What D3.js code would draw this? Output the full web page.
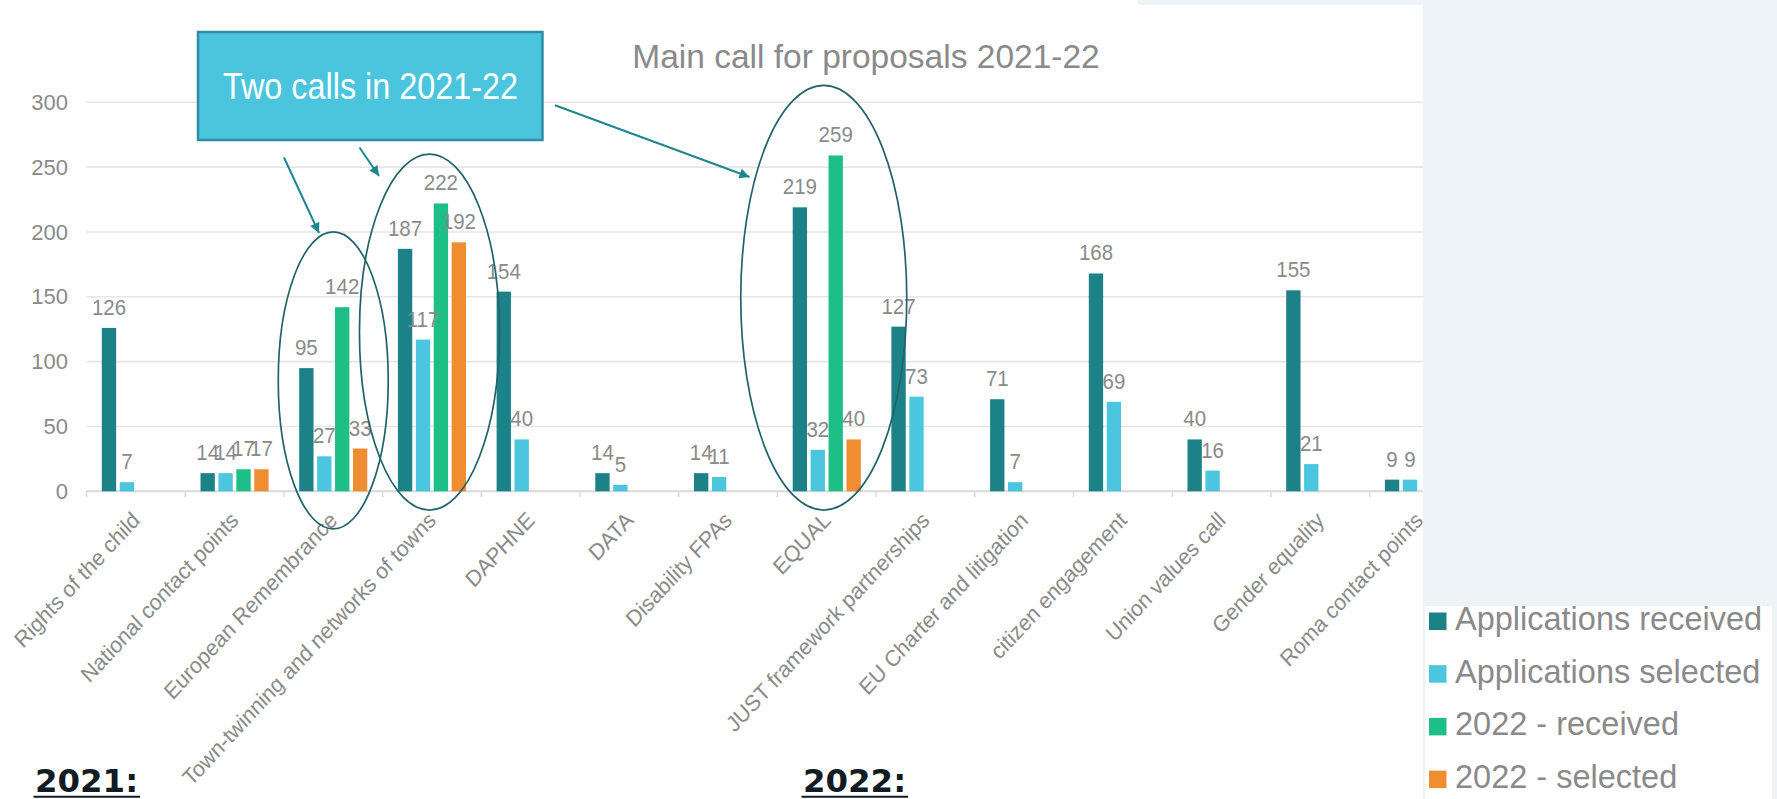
<!DOCTYPE html>
<html><head><meta charset="utf-8">
<script src="https://cdn.jsdelivr.net/npm/d3@7"></script>
<style>
body{margin:0;background:#fff;}
svg{display:block;font-family:"Liberation Sans",Arial,sans-serif;}
</style>
</head><body>
<svg id="c" width="1777" height="799"></svg>
<script>
// ---------- data ----------
const categories = ["Rights of the child","National contact points","European Remembrance",
  "Town-twinning and networks of towns","DAPHNE","DATA","Disability FPAs","EQUAL",
  "JUST framework partnerships","EU Charter and litigation","citizen engagement",
  "Union values call","Gender equality","Roma contact points"];
const seriesNames = ["Applications received","Applications selected","2022 - received","2022 - selected"];
const appsReceived = [126,14,95,187,154,14,14,219,127,71,168,40,155,9];
const appsSelected = [7,14,27,117,40,5,11,32,73,7,69,16,21,9];
const received2022 = [null,17,142,222,null,null,null,259,null,null,null,null,null,null];
const selected2022 = [null,17,33,192,null,null,null,40,null,null,null,null,null,null];
const yTicks = [0,50,100,150,200,250,300];
const colors = ["#1d8288","#4bc6de","#1dbf87","#ef8d31"];
const chartTitle = "Main call for proposals 2021-22";
const calloutText = "Two calls in 2021-22";
const yearLabels = ["2021:","2022:"];

const seriesValues = [appsReceived, appsSelected, received2022, selected2022];

// ---------- layout ----------
const svg = d3.select("#c");
const W = 1777, H = 799;
const plotL = 86.5, step = 98.7, plotR = plotL + step*categories.length;
const yBase = 491.3, yTop = 102.3;
const gray = "#8a8a8a";

const x0 = d3.scaleBand().domain(categories).range([plotL, plotR])
  .paddingInner(0.31).paddingOuter(0.155);
const x1 = d3.scaleBand().domain(seriesNames).range([0, x0.bandwidth()]).paddingInner(0.2);
const y = d3.scaleLinear().domain([0,300]).range([yBase, yTop]);

svg.append("rect").attr("width",W).attr("height",H).attr("fill","#fff");

// gridlines
svg.append("g").selectAll("line").data(yTicks.filter(d=>d>0)).join("line")
  .attr("x1",plotL).attr("x2",plotR).attr("y1",d=>y(d)).attr("y2",d=>y(d))
  .attr("stroke","#e6e6e6").attr("stroke-width",1.6);

// x axis line + boundary ticks
svg.append("line").attr("x1",plotL).attr("x2",plotR).attr("y1",yBase).attr("y2",yBase)
  .attr("stroke","#d9d9d9").attr("stroke-width",2);
svg.append("g").selectAll("line").data(d3.range(categories.length+1)).join("line")
  .attr("x1",k=>plotL+k*x0.step()).attr("x2",k=>plotL+k*x0.step())
  .attr("y1",yBase).attr("y2",yBase+6).attr("stroke","#d9d9d9").attr("stroke-width",1.5);

// y axis labels
const yAxis = svg.append("g").attr("transform","translate(68,0)")
  .call(d3.axisLeft(y).tickValues(yTicks).tickSize(0).tickPadding(0));
yAxis.select(".domain").remove();
yAxis.selectAll("text").attr("font-size",22).attr("fill",gray)
  .attr("font-family","'Liberation Sans',Arial,sans-serif");

// bars
const barData = [];
categories.forEach((c,i)=>{
  seriesNames.forEach((s,j)=>{
    const v = seriesValues[j][i];
    if (v !== null && v !== undefined) barData.push({c,s,v,j});
  });
});
svg.append("g").selectAll("rect").data(barData).join("rect")
  .attr("x",d=>x0(d.c)+x1(d.s)).attr("y",d=>y(d.v))
  .attr("width",x1.bandwidth()).attr("height",d=>y(0)-y(d.v))
  .attr("fill",d=>colors[d.j]);

// value labels (slightly tall glyphs as in the source picture)
svg.append("g").selectAll("text").data(barData).join("text")
  .attr("transform",d=>`translate(${x0(d.c)+x1(d.s)+x1.bandwidth()/2},${y(d.v)-13}) scale(1,1.12)`)
  .attr("text-anchor","middle").attr("font-size",20.5).attr("fill",gray)
  .text(d=>d.v);

// category labels
svg.append("g").selectAll("text").data(categories).join("text")
  .attr("transform",c=>`translate(${x0(c)+x0.bandwidth()/2},516) scale(1,1.08) rotate(-45)`)
  .attr("text-anchor","end").attr("dy","0.35em").attr("font-size",21).attr("fill",gray)
  .text(c=>c);

// title
svg.append("text").attr("x",866).attr("y",68).attr("text-anchor","middle")
  .attr("font-size",33.5).attr("fill",gray).text(chartTitle);

// ---------- annotations ----------
const defs = svg.append("defs");
defs.append("marker").attr("id","ah").attr("viewBox","0 0 10 10")
  .attr("refX",10).attr("refY",5).attr("markerWidth",13).attr("markerHeight",10)
  .attr("markerUnits","userSpaceOnUse").attr("orient","auto")
  .append("path").attr("d","M0,0 L10,5 L0,10 z").attr("fill","#1e878d");

// ellipses around groups: category, top value, bottom value, rx, x offset
const ellipses = [
  {cat:"European Remembrance", top:200, bottom:-29, rx:55, dx:0},
  {cat:"Town-twinning and networks of towns", top:260, bottom:-14.5, rx:70, dx:-2.5},
  {cat:"EQUAL", top:313, bottom:-14.5, rx:83, dx:-3}
];
svg.append("g").selectAll("ellipse").data(ellipses).join("ellipse")
  .attr("cx",d=>x0(d.cat)+x0.bandwidth()/2+d.dx)
  .attr("cy",d=>(y(d.top)+y(d.bottom))/2)
  .attr("rx",d=>d.rx).attr("ry",d=>(y(d.bottom)-y(d.top))/2)
  .attr("fill","none").attr("stroke","#22636a").attr("stroke-width",1.7);

// arrows
const arrows = [
  [[284,157.5],[319,233]],
  [[359.5,147.5],[379,176]],
  [[555,105.3],[749.5,177]]
];
svg.append("g").selectAll("line").data(arrows).join("line")
  .attr("x1",d=>d[0][0]).attr("y1",d=>d[0][1]).attr("x2",d=>d[1][0]).attr("y2",d=>d[1][1])
  .attr("stroke","#1e878d").attr("stroke-width",2).attr("marker-end","url(#ah)");

// callout box
svg.append("rect").attr("x",198).attr("y",32).attr("width",344.5).attr("height",108)
  .attr("fill","#4bc5dd").attr("stroke","#2f8ea6").attr("stroke-width",2.5);
svg.append("text").attr("x",223).attr("y",99.3).attr("font-size",37).attr("fill","#fff")
  .attr("textLength",295).attr("lengthAdjust","spacingAndGlyphs").text(calloutText);

// year labels
const yl = svg.append("g").selectAll("g").data(yearLabels).join("g");
yl.each(function(d,i){
  const g = d3.select(this);
  const xs = [35, 803][i];
  const t = g.append("text").attr("x",xs).attr("y",792).attr("font-size",32.4)
    .attr("font-weight","bold").attr("font-family","'DejaVu Sans',Verdana,sans-serif")
    .attr("fill","#111b24").text(d);
  const w = t.node().getComputedTextLength();
  g.append("line").attr("x1",xs-1.5).attr("x2",xs+w+2).attr("y1",796.8).attr("y2",796.8)
    .attr("stroke","#111b24").attr("stroke-width",2);
});

// ---------- right side background & legend ----------
const bg = "#eef3f7";
svg.append("rect").attr("x",1423).attr("y",0).attr("width",W-1423).attr("height",H).attr("fill",bg);
svg.append("rect").attr("x",1137).attr("y",-6).attr("width",W-1137+6).attr("height",11)
  .attr("rx",5).attr("fill",bg);
svg.append("rect").attr("x",1425).attr("y",606).attr("width",347).attr("height",H-606).attr("fill","#fff");

const leg = svg.append("g").selectAll("g").data(seriesNames).join("g")
  .attr("transform",(d,i)=>`translate(0,${630 + i*52.7})`);
leg.append("rect").attr("x",1429).attr("y",-17.5).attr("width",17.5).attr("height",17.5)
  .attr("fill",(d,i)=>colors[i]);
leg.append("text").attr("x",1455).attr("y",0).attr("font-size",32.5).attr("fill",gray).text(d=>d);
</script>
</body></html>
